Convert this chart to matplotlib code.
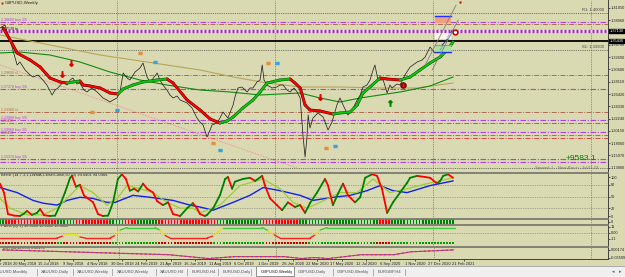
import numpy as np
import matplotlib
matplotlib.use("Agg")
import matplotlib.pyplot as plt
from matplotlib.collections import LineCollection
from matplotlib.lines import Line2D
from matplotlib.patches import Rectangle

plt.rcParams['font.family'] = ['Liberation Sans', 'DejaVu Sans']

W, H = 625, 277
BG = '#dadab2'
XMAX = 198.5          # bars visible across the chart

# ---------------- price window (GBPUSD weekly) ----------------
close_w = [0.0, 1.6, 3.3, 4.2, 5.6, 6.5, 8.2, 9.8, 10.8, 12.4, 14.0, 15.3, 17.0, 18.0, 18.9,
           20.6, 21.9, 22.9, 23.8, 25.1, 26.1, 27.4, 28.4, 30.0, 31.7, 32.7, 33.6, 34.9, 35.9,
           36.9, 38.2, 39.2, 40.2, 41.5, 42.4, 44.1, 45.7, 46.7, 48.0, 49.0, 49.6, 51.3, 52.2,
           53.2, 54.5, 55.5, 56.5, 57.8, 58.8, 61.1, 62.7, 64.3, 65.3, 66.3, 67.6, 68.6, 69.2,
           70.9, 71.8, 72.8, 74.4, 76.1, 76.7, 77.7, 79.0, 80.7, 81.6, 82.6, 83.9, 84.9, 85.6,
           86.2, 87.2, 88.8, 90.4, 91.4, 92.4, 93.7, 94.7, 96.0, 97.0, 98.0, 98.9, 99.6, 100.2,
           100.6, 101.2, 102.2, 103.8, 105.5, 107.1, 108.4, 110.0, 111.0, 112.0, 113.6, 115.3,
           116.6, 117.6, 118.5, 119.8, 120.8, 121.8, 122.4, 123.4, 125.1, 126.4, 127.3, 128.0,
           129.6, 130.6, 132.2, 133.9, 136.2, 137.8, 138.8, 140.4, 142.0, 143.7, 144.3, 146.0,
           146.9, 147.6]
close_p = [1.3764, 1.3815, 1.3560, 1.3390, 1.3135, 1.3186, 1.3050, 1.2965, 1.2931, 1.2965,
           1.2880, 1.2795, 1.2625, 1.2710, 1.2744, 1.2846, 1.2795, 1.2880, 1.2914, 1.2812,
           1.2829, 1.2710, 1.2676, 1.2744, 1.2676, 1.2625, 1.2574, 1.2540, 1.2506, 1.2540,
           1.2574, 1.2676, 1.2999, 1.2914, 1.2880, 1.3016, 1.3084, 1.3169, 1.2931, 1.2846,
           1.2880, 1.2999, 1.2880, 1.2795, 1.2710, 1.2625, 1.2574, 1.2608, 1.2540, 1.2489,
           1.2404, 1.2234, 1.2166, 1.2115, 1.1911, 1.2030, 1.2115, 1.2149, 1.2234, 1.2336,
           1.2234, 1.2455, 1.2591, 1.2744, 1.2761, 1.2676, 1.2744, 1.2744, 1.2846, 1.2880,
           1.3135, 1.2880, 1.2795, 1.2744, 1.2761, 1.2795, 1.2795, 1.2710, 1.2676, 1.2744,
           1.2676, 1.2574, 1.1945, 1.1571, 1.1894, 1.2285, 1.2064, 1.2234, 1.2319, 1.2251,
           1.2030, 1.2166, 1.2455, 1.2574, 1.2455, 1.2285, 1.2404, 1.2540, 1.2625, 1.2761,
           1.2795, 1.2880, 1.3050, 1.3135, 1.2880, 1.2880, 1.2659, 1.2795, 1.2744, 1.2812,
           1.2795, 1.2965, 1.3101, 1.3186, 1.3220, 1.3271, 1.3441, 1.3339, 1.3424, 1.3475,
           1.3560, 1.3645, 1.3730]

# thick trend MA (red when falling, green when rising)
ma_w = [1.0, 3.3, 5.6, 9.8, 13.1, 16.3, 19.6, 21.9, 23.8, 26.1, 27.1, 29.4, 32.7, 35.9, 38.5,
        40.2, 43.4, 46.7, 51.3, 54.5, 56.5, 61.1, 65.3, 68.6, 71.8, 74.1, 76.1, 79.3, 82.6,
        84.9, 87.2, 91.4, 94.7, 96.3, 98.0, 99.6, 101.2, 104.5, 108.7, 111.0, 114.3, 116.6,
        118.5, 120.8, 124.1, 126.4, 130.6, 133.9, 137.1, 140.4, 143.7, 146.0, 147.9]
ma_p = [1.3764, 1.3560, 1.3339, 1.3220, 1.3101, 1.2914, 1.2846, 1.2829, 1.2846, 1.2863,
        1.2795, 1.2778, 1.2744, 1.2659, 1.2642, 1.2727, 1.2795, 1.2846, 1.2880, 1.2897,
        1.2829, 1.2540, 1.2370, 1.2217, 1.2149, 1.2183, 1.2251, 1.2404, 1.2540, 1.2676,
        1.2829, 1.2880, 1.2897, 1.2829, 1.2744, 1.2455, 1.2370, 1.2353, 1.2302, 1.2319,
        1.2336, 1.2455, 1.2659, 1.2761, 1.2914, 1.2897, 1.2880, 1.2931, 1.3050, 1.3169,
        1.3271, 1.3390, 1.3526]

slow_w = [0.0, 6.5, 16.3, 26.1, 35.9, 45.7, 54.5, 65.3, 75.1, 84.9, 98.0, 104.5, 111.0,
          117.6, 124.1, 130.6, 140.4, 147.9]
slow_p = [1.3339, 1.3356, 1.3305, 1.3186, 1.3016, 1.2880, 1.2795, 1.2710, 1.2676, 1.2625,
          1.2659, 1.2574, 1.2506, 1.2574, 1.2625, 1.2676, 1.2778, 1.2931]

long_w = [0.0, 32.7, 65.3, 76.1, 87.2, 98.0, 111.0, 124.1, 136.2, 147.9]
long_p = [1.3645, 1.3305, 1.3050, 1.2931, 1.2829, 1.2761, 1.2761, 1.2744, 1.2744, 1.2829]

trend_w = [0.0, 97.0]
trend_p = [1.3135, 1.1384]

# horizontal levels
level_p = [1.4019, 1.3866, 1.3832, 1.3713, 1.3543, 1.3390, 1.2965, 1.2727, 1.2336, 1.2200,
           1.2149, 1.1996, 1.1945, 1.1894, 1.1537, 1.1486, 1.1384]
level_kind = ['dot', 'purple', 'brown', 'band', 'black', 'dot', 'brown', 'purple', 'brown',
              'purple', 'red', 'purple', 'brown', 'red', 'purple', 'purple', 'dot']
level_text = ['', '1.38660 buy 3/5', '', '1.37130 tp', '', '', '1.29650 sl', '1.27270 buy 3/5',
              '1.23360 sl', '1.22000 buy 3/5', '1.21490', '1.19960 buy 3/5', '1.19450', '',
              '1.15370 buy 3/5', '', '']

price_ticks = [1.1388, 1.1597, 1.1806, 1.2015, 1.2224, 1.2433, 1.2642, 1.2851, 1.3060,
               1.3269, 1.3478, 1.3687, 1.3896, 1.4105]
price_boxes = [1.3713, 1.3543]

arrow_dn_w = [23.2, 20.2, 104.5]
arrow_dn_p = [1.3169, 1.2982, 1.2591]
arrow_up_w = [127.3]
arrow_up_p = [1.2489]
icon_or_w = [45.7, 87.5, 30.0, 69.6, 106.4]
icon_or_p = [1.3339, 1.3169, 1.2336, 1.1809, 1.1724]
icon_bl_w = [50.6, 90.4, 38.2, 71.8, 109.4]
icon_bl_p = [1.3186, 1.3169, 1.2370, 1.1690, 1.1758]

year_sep = [38.2, 89.8, 141.4, 193.0]

# ---------------- stochastic window ----------------
st_w = [0.0, 1.3, 2.6, 4.6, 6.5, 7.8, 8.8, 10.4, 12.1, 13.1, 14.4, 16.3, 18.0, 19.6, 21.2,
        22.9, 23.5, 24.8, 26.1, 27.4, 28.7, 30.4, 32.0, 33.6, 35.3, 36.9, 38.5, 39.8, 41.1,
        42.4, 43.8, 45.1, 46.7, 48.0, 50.0, 51.3, 53.2, 54.9, 56.5, 58.8, 61.1, 63.0, 64.3,
        65.3, 66.9, 67.6, 69.6, 71.8, 73.5, 74.4, 75.8, 76.7, 79.3, 81.6, 83.3, 85.6, 86.5,
        88.2, 90.4, 92.1, 94.0, 96.3, 98.0, 99.6, 101.2, 103.5, 106.1, 107.1, 108.7, 110.4,
        112.0, 113.6, 115.9, 117.6, 119.2, 121.5, 123.1, 124.7, 126.4, 128.3, 130.6, 132.9,
        133.9, 136.2, 138.8, 140.4, 142.7, 143.7, 144.7, 146.3, 147.9]
st_v = [83, 60, 5, 1, 0, 6, 13, 3, 8, 18, 2, 0, 1, 28, 60, 98, 103, 75, 80, 53, 45, 35, 5, 0,
        1, 35, 95, 107, 95, 65, 70, 63, 83, 70, 60, 38, 28, 35, 5, 0, 20, 33, 20, 5, 0, 3, 20,
        53, 95, 100, 70, 88, 95, 98, 90, 103, 78, 45, 28, 15, 35, 23, 28, 8, 33, 60, 95, 78,
        28, 58, 83, 53, 35, 48, 98, 107, 103, 70, 8, 35, 60, 85, 98, 103, 100, 98, 83, 90,
        103, 107, 98]

lime_w = [0.0, 3.3, 8.8, 14.0, 18.6, 21.9, 26.1, 30.4, 34.9, 38.2, 41.5, 45.7, 50.0, 54.5,
          58.8, 63.0, 65.3, 71.8, 78.4, 85.9, 91.4, 95.7, 100.2, 104.5, 111.0, 116.6, 121.8,
          127.3, 132.9, 140.4, 147.9]
lime_v = [45, 20, 3, 3, 20, 45, 78, 60, 28, 45, 78, 70, 60, 35, 20, 20, 8, 28, 78, 95, 70,
          35, 20, 35, 60, 60, 95, 60, 70, 85, 98]

blue_w = [0.0, 5.6, 10.8, 14.0, 18.6, 21.9, 26.1, 30.4, 34.9, 37.6, 43.4, 49.0, 56.5, 62.0,
          65.3, 69.6, 76.1, 81.6, 85.9, 91.4, 98.0, 102.2, 108.7, 114.3, 119.8, 124.1, 128.3,
          132.9, 140.4, 147.9]
blue_v = [73, 60, 40, 33, 28, 40, 48, 45, 35, 35, 53, 48, 40, 28, 23, 15, 35, 53, 73, 65, 53,
          40, 48, 53, 65, 78, 65, 60, 78, 90]

# histogram strip under the stochastic (runs of bars: last bar of run, colour)
strip_end = [2, 19, 25, 36, 41, 45, 52, 71, 86, 98, 124, 128, 149]
strip_col = ['g', 'r', 'g', 'r', 'g', 'r', 'g', 'r', 'g', 'r', 'g', 'r', 'g']

# ---------------- "wind" window ----------------
wind_w = [0.0, 18.6, 20.6, 21.9, 24.5, 26.1, 27.8, 35.9, 37.6, 39.2, 41.5, 50.6, 52.2, 53.9,
          55.5, 67.6, 69.6, 71.2, 72.8, 85.6, 87.5, 89.5, 91.4, 101.2, 102.9, 104.5, 106.8,
          148.6]
wind_v = [-10, -10, -6, -3, -3, -8, -10, -10, -5, 5, 10, 10, 5, -5, -10, -10, -6, 2, 10, 10,
          4, -4, -10, -10, -4, 5, 10, 10]
wstrip_end = [19, 21, 37, 52, 70, 87, 101, 123, 128, 149]
wstrip_col = ['r', 'g', 'r', 'g', 'r', 'g', 'r', 'g', 'r', 'g']

# ---------------- bottom window ----------------
low_w = [0.0, 32.7, 54.5, 67.6, 76.1, 92.4, 98.0, 102.2, 106.8, 117.6, 128.3, 133.9, 147.9]
low_v = [0.0017, -0.0196, -0.0338, -0.0622, -0.0480, -0.0480, -0.0622, -0.0551, -0.0622,
         -0.0338, -0.0338, -0.0125, 0.0017]

date_pos = [-0.8 + 8 * k for k in range(20)]
date_labels = ['25 Mar 2018', '20 May 2018', '15 Jul 2018', '9 Sep 2018', '4 Nov 2018',
               '30 Dec 2018', '24 Feb 2019', '21 Apr 2019', '16 Jun 2019', '11 Aug 2019',
               '6 Oct 2019', '1 Dec 2019', '26 Jan 2020', '22 Mar 2020', '17 May 2020',
               '12 Jul 2020', '6 Sep 2020', '1 Nov 2020', '27 Dec 2020', '21 Feb 2021']

tab_names = ['XAUUSD,Monthly', 'XAUUSD,Daily', 'XAUUSD,Weekly', 'XAUUSD,Weekly', 'XAUUSD,H4',
             'EURUSD,H4', 'EURUSD,Daily', 'GBPUSD,Weekly', 'GBPUSD,Daily', 'GBPUSD,Weekly',
             'EURGBP,H4']
tab_x = [-5, 41, 77, 117, 160, 192, 223, 261, 298, 337, 378]
tab_sep = [37, 73, 112, 156, 187, 218, 251, 333, 373, 405]
active_tab = 7


fig = plt.figure(figsize=(W / 100, H / 100), dpi=100, facecolor=BG)


def box(x0, y0, x1, y1):
    return [x0 / W, 1 - y1 / H, (x1 - x0) / W, (y1 - y0) / H]


def panel(rect, ylim, ticks=None, labels=None):
    a = fig.add_axes(box(*rect))
    a.set_facecolor(BG)
    a.set_xlim(0, XMAX)
    a.set_ylim(*ylim)
    for s in ['left', 'top', 'bottom']:
        a.spines[s].set_visible(False)
    a.spines['right'].set_color('#404040')
    a.spines['right'].set_linewidth(0.7)
    a.yaxis.tick_right()
    if ticks is not None:
        a.set_yticks(ticks, labels)
    else:
        a.set_yticks([])
    a.tick_params(axis='y', labelsize=2.8, length=1.5, width=0.5, pad=0.6, colors='#202020')
    a.set_xticks([])
    for w in year_sep:
        a.axvline(w, color='#505050', lw=0.5, ls=(0, (1, 1.5)), zorder=1)
    return a


def colored_line(a, xs, ys, cols, lw, under=None, z=3):
    pts = np.column_stack([xs, ys])
    segs = np.stack([pts[:-1], pts[1:]], axis=1)
    if under:
        a.add_collection(LineCollection(segs, colors=under, linewidths=lw + 0.7,
                                        capstyle='round', zorder=z))
    a.add_collection(LineCollection(segs, colors=cols, linewidths=lw,
                                    capstyle='round', zorder=z + 0.1))


def runs_to_colors(ends, cols):
    out = []
    start = 0
    for e, c in zip(ends, cols):
        out += [c] * (e - start)
        start = e
    return out


# ---------------- main price window ----------------
ax = panel((0, 0, 608, 172), (1.1316, 1.424), price_ticks, ['%.5f' % t for t in price_ticks])

styles = {
    'dot': dict(color='#505050', ls=(0, (1, 1.2)), lw=0.6),
    'purple': dict(color='#b040e0', ls=(0, (5, 1.5, 1, 1.5)), lw=0.8),
    'brown': dict(color='#b06a50', ls=(0, (5, 1.5, 1, 1.5)), lw=0.7),
    'red': dict(color='#e04848', ls=(0, (5, 1.5, 1, 1.5)), lw=0.7),
    'black': dict(color='#000000', ls='-', lw=1.3),
}
for p, k, t in zip(level_p, level_kind, level_text):
    if k == 'band':
        ax.axhline(p, color='#f4f0c0', lw=2.4, zorder=2)
        ax.axhline(p, color='#a020e0', lw=2.4, ls=(0, (0.6, 0.6)), zorder=2)
        col = '#202020'
    else:
        ax.axhline(p, zorder=2, **styles[k])
        col = styles[k]['color']
    if t:
        ax.text(0.4, p + 0.0007, t, fontsize=2.6, color=col, va='bottom', ha='left', zorder=6)

ax.plot(trend_w, trend_p, color='#f080a0', lw=0.6, ls=(0, (1, 1)), zorder=3)
ax.plot(long_w, long_p, color='#b8a458', lw=0.8, zorder=3)
ax.plot(slow_w, slow_p, color='#108a10', lw=0.8, zorder=3)
ax.plot(close_w, close_p, color='#252525', lw=0.55, zorder=4)

ma_cols = ['#10c010' if b > a else '#ff0000' for a, b in zip(ma_p[:-1], ma_p[1:])]
ma_under = ['#0a5a0a' if c == '#10c010' else '#600000' for c in ma_cols]
colored_line(ax, ma_w, ma_p, ma_cols, 1.4, under=ma_under, z=5)

ax.plot(arrow_dn_w, arrow_dn_p, ls='none', marker=r'$\downarrow$', ms=4, color='#e00000', zorder=7)
ax.plot(arrow_up_w, arrow_up_p, ls='none', marker=r'$\uparrow$', ms=4, color='#008000', zorder=7)
ax.plot(icon_or_w, icon_or_p, ls='none', marker=r'$\equiv$', ms=3, color='#e09040', zorder=7)
ax.plot(icon_bl_w, icon_bl_p, ls='none', marker=r'$\equiv$', ms=3, color='#3aa0e8', zorder=7)

# objects at the right end of the price
ax.add_patch(Rectangle((142.0, 1.3849), 5.3, 0.0119, facecolor='#f0a080', edgecolor='none', zorder=6))
ax.plot([142.0, 147.3], [1.3968, 1.3968], color='#2030ff', lw=1.0, zorder=6)
ax.add_patch(Rectangle((142.0, 1.3577), 5.3, 0.0102, facecolor='#f6f6e6', edgecolor='none', zorder=6))
ax.add_patch(Rectangle((142.0, 1.3356), 5.3, 0.0102, facecolor='#a8e4a0', edgecolor='none', zorder=6))
ax.plot([142.0, 147.3], [1.3475, 1.3475], color='#f08020', lw=0.8, zorder=6)
ax.plot([142.0, 147.3], [1.3356, 1.3356], color='#2030ff', lw=1.0, zorder=6)
ax.plot([138.8, 148.9], [1.3135, 1.4155], color='#808080', lw=0.6, zorder=6)
ax.plot([141.1, 149.6], [1.3050, 1.3900], color='#808080', lw=0.6, zorder=6)
ax.plot([143.7, 147.6], [1.3390, 1.3730], color='#3050ff', lw=0.6, ls=(0, (1, 1)), zorder=6)
ax.plot([131.6], [1.2795], marker='o', ms=4.0, mfc='#c00000', mec='#500000', mew=0.6, zorder=8)
ax.plot([131.6], [1.2795], marker='o', ms=1.4, mfc='#3050ff', mec='none', zorder=9)
ax.plot([148.6], [1.3696], marker='o', ms=3.4, mfc='#ffffff', mec='#c00000', mew=1.1, zorder=8)
ax.plot([150.2], [1.4206], marker='s', ms=1.6, mfc='#c00000', mec='none', zorder=8)

for p in price_boxes:
    ax.text(1.003, p, '%.5f' % p, transform=ax.get_yaxis_transform(), fontsize=2.8,
            color='white', va='center', ha='left',
            bbox=dict(boxstyle='square,pad=0.12', fc='black', ec='black'))

ax.text(1.5, 1.4195, 'GBPUSD,Weekly', fontsize=3.2, color='#202020', va='center')
ax.plot([0.5], [1.4195], marker='s', ms=1.8, mfc='#d02020', mec='none')
fig.text(604 / W, 1 - 10 / H, 'R1: 1.40000', fontsize=3.0, color='#404040', ha='right', va='center')
fig.text(604 / W, 1 - 47 / H, 'S1: 1.33900', fontsize=3.0, color='#404040', ha='right', va='center')
fig.text(596 / W, 1 - 158 / H, '+9583.1', fontsize=6, color='#008000', ha='right', va='center')
fig.text(598 / W, 1 - 168 / H, 'Spread: 7    Next Bar in : 1d 01:23', fontsize=3.1,
         color='#707070', ha='right', va='center')

# ---------------- stochastic window ----------------
ax2 = panel((0, 173, 608, 218), (-5.1, 110.3), [0, 20, 50, 80, 100], ['0', '20', '50', '80', '100'])
for lv in [20, 50, 80]:
    ax2.axhline(lv, color='#707070', lw=0.5, ls=(0, (1, 1.5)), zorder=1)
ax2.plot(blue_w, blue_v, color='#1020f0', lw=1.0, zorder=3)
ax2.plot(lime_w, lime_v, color='#9acd32', lw=0.9, zorder=3)
st_cols = ['#008000' if b > a else '#ff0000' for a, b in zip(st_v[:-1], st_v[1:])]
colored_line(ax2, st_w, st_v, st_cols, 1.3, z=4)
ax2.text(0.3, 106, 'hastic (14,7,3,1,LWMA,Close/Close,50,50) 94.0401 94.0466', fontsize=2.9,
         color='#202020', va='center', ha='left')

# strip of bars
ax3 = panel((0, 219, 608, 224), (0, 1), [0.5], ['0'])
bars = runs_to_colors(strip_end, strip_col)
weeks = np.arange(len(bars))
light = ['#b8e0b0' if c == 'g' else '#f8b0b0' for c in bars]
dark = ['#008000' if c == 'g' else '#ff0000' for c in bars]
ax3.bar(weeks, 0.9, bottom=0.05, width=1.0, color=light, zorder=2)
ax3.bar(weeks, 0.9, bottom=0.05, width=0.55, color=dark, zorder=3)

# ---------------- wind window ----------------
ax4 = panel((0, 225, 608, 246), (-25.2, 14.8), [11, 0, -11], ['11', '0.00', '-11'])
ax4.axhline(0, color='#707070', lw=0.5, ls=(0, (1, 1.5)), zorder=1)
mid = [(a + b) / 2 for a, b in zip(wind_v[:-1], wind_v[1:])]
w_cols = ['#ff2020' if m <= -7 else ('#40c840' if m >= 7 else '#e8e020') for m in mid]
colored_line(ax4, wind_w, wind_v, w_cols, 1.0, z=3)
ax4.text(0.3, 12.5, 'r wind (xy 1) 10.0000 10.0000 10.0000', fontsize=2.9, color='#202020',
         va='center', ha='left')
wb = runs_to_colors(wstrip_end, wstrip_col)
wk = np.arange(len(wb))
ax4.bar(wk, 3.6, bottom=-21.4, width=0.6,
        color=['#00a000' if c == 'g' else '#c00000' for c in wb], zorder=3)

# ---------------- bottom window ----------------
ax5 = panel((0, 247, 608, 259), (-0.0655, 0.0230), [0.00174, -0.05509], ['0.00174', '-0.05509'])
ax5.plot(low_w, low_v, color='#ff3030', lw=0.8, zorder=3)
ax5.plot(low_w, low_v, color='#7040d0', lw=0.8, ls=(0, (2, 2)), zorder=4)
ax5.text(0.3, 0.016, 'DXY(14,12,000) 0.00174', fontsize=2.7, color='#202020', va='center')
ax5.spines['bottom'].set_visible(True)
ax5.spines['bottom'].set_color('#404040')
ax5.spines['bottom'].set_linewidth(0.7)
ax5.set_xticks(date_pos, date_labels)
ax5.tick_params(axis='x', labelsize=2.9, length=1.5, width=0.5, pad=0.8, colors='#202020')

# window separators
for y in [172.5, 218.6, 224.5, 246.5]:
    fig.add_artist(Line2D([0, 608 / W], [1 - y / H] * 2, transform=fig.transFigure,
                          color='#7a7a70', lw=1.3))

# ---------------- tab bar ----------------
fig.add_artist(Rectangle((0, 0), 1, 11 / H, transform=fig.transFigure, facecolor='#f0f0f0',
                         edgecolor='none'))
fig.add_artist(Line2D([0, 1], [11 / H] * 2, transform=fig.transFigure, color='#a0a0a0', lw=0.6))
fig.add_artist(Rectangle((256 / W, 1 / H), 38 / W, 10 / H, transform=fig.transFigure,
                         facecolor='white', edgecolor='#808080', lw=0.6))
for i, (name, x) in enumerate(zip(tab_names, tab_x)):
    fig.text(x / W, 5.5 / H, name, fontsize=3.0, va='center', ha='left',
             color='#101010' if i == active_tab else '#505050')
for x in tab_sep:
    fig.add_artist(Line2D([x / W] * 2, [2.5 / H, 8.5 / H], transform=fig.transFigure,
                          color='#909090', lw=0.5))
fig.text(613 / W, 5.5 / H, '\u25c2', fontsize=3.5, color='#606060', va='center', ha='center')
fig.text(620 / W, 5.5 / H, '\u25b8', fontsize=3.5, color='#606060', va='center', ha='center')

fig.savefig('out.png', dpi=100, facecolor=BG)
